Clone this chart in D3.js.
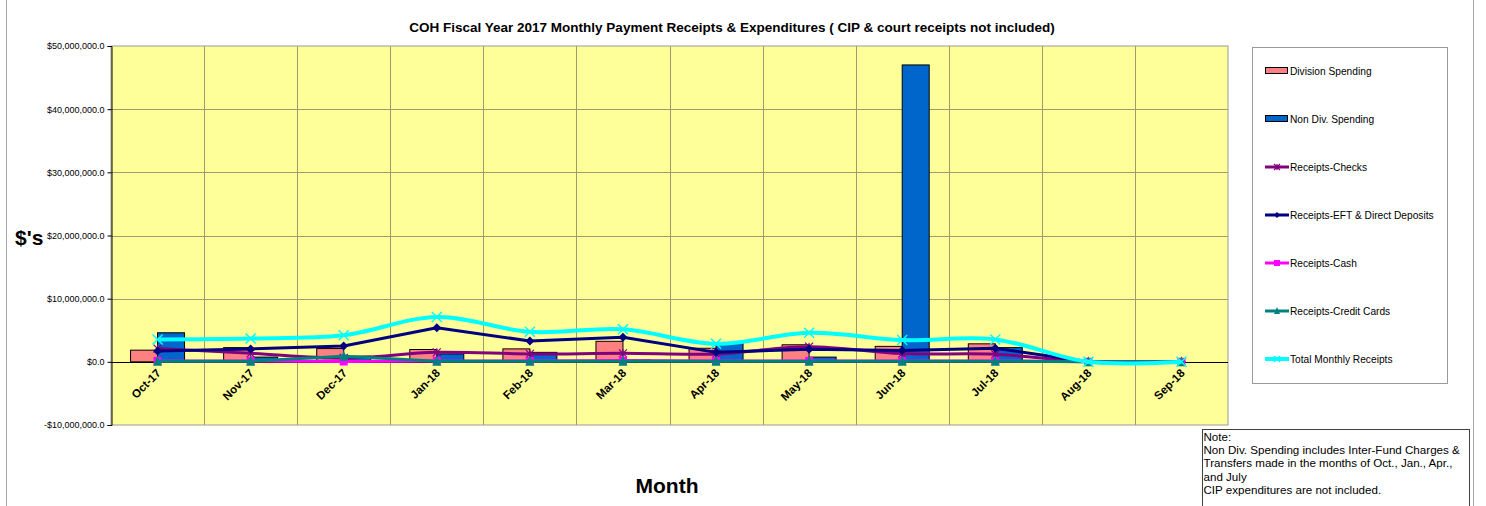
<!DOCTYPE html>
<html>
<head>
<meta charset="utf-8">
<script src="https://cdn.jsdelivr.net/npm/d3@7"></script>
<style>
  body { margin: 0; background: #fff; }
  svg { display: block; font-family: "Liberation Sans", Arial, sans-serif; }
</style>
</head>
<body>
<svg id="chart" width="1486" height="506"></svg>
<script>
const months = ["Oct-17","Nov-17","Dec-17","Jan-18","Feb-18","Mar-18","Apr-18","May-18","Jun-18","Jul-18","Aug-18","Sep-18"];
const divisionSpending = [1.85e6, 2.25e6, 2.1e6, 1.95e6, 2.05e6, 3.25e6, 2.15e6, 2.7e6, 2.45e6, 2.85e6, 0, 0];
const nonDivSpending   = [4.6e6, 0.75e6, 0.9e6, 1.25e6, 1.5e6, 0.3e6, 2.95e6, 0.75e6, 47.0e6, 2.25e6, 0, 0];
const receiptsChecks   = [2.1e6, 1.35e6, 0.6e6, 1.5e6, 1.25e6, 1.35e6, 1.25e6, 2.4e6, 1.3e6, 1.2e6, 0, 0];
const receiptsEFT      = [1.7e6, 2.05e6, 2.5e6, 5.4e6, 3.3e6, 3.9e6, 1.5e6, 2.0e6, 1.8e6, 2.15e6, 0, 0];
const receiptsCash     = [0.15e6, 0.15e6, 0.05e6, 0.15e6, 0.15e6, 0.2e6, 0.15e6, 0.15e6, 0.15e6, 0.15e6, 0, 0];
const receiptsCC       = [0.1e6, 0.1e6, 0.9e6, 0.1e6, 0.1e6, 0.1e6, 0.1e6, 0.1e6, 0.1e6, 0.1e6, 0, 0];
const totalReceipts    = [3.55e6, 3.7e6, 4.2e6, 7.1e6, 4.75e6, 5.15e6, 2.85e6, 4.6e6, 3.45e6, 3.55e6, 0, 0];
const yTicks = [-10e6, 0, 10e6, 20e6, 30e6, 40e6, 50e6];

const title = "COH Fiscal Year 2017 Monthly Payment Receipts & Expenditures ( CIP & court receipts not included)";
const noteLines = ["Note:", "Non Div. Spending includes Inter-Fund Charges &", "Transfers made in the months of Oct., Jan., Apr.,", "and July", "CIP expenditures are not included."];

const svg = d3.select("#chart");
const plot = {left: 111, right: 1228, top: 46, bottom: 425};

// outer chart frame
svg.append("rect").attr("x", 6.5).attr("y", -2).attr("width", 1467).attr("height", 512)
  .attr("fill", "#fff").attr("stroke", "#a6a6a6").attr("stroke-width", 1);

const x = d3.scaleBand().domain(months).range([plot.left, plot.right]).padding(0);
const y = d3.scaleLinear().domain([-10e6, 50e6]).range([plot.bottom, plot.top]);
const barW = x.bandwidth() * 0.29;

// plot background
svg.append("rect").attr("x", plot.left).attr("y", plot.top)
  .attr("width", plot.right - plot.left).attr("height", plot.bottom - plot.top)
  .attr("fill", "#FFFF99").attr("stroke", "#9a9a9a").attr("stroke-width", 1);

// gridlines
const grid = svg.append("g");
grid.selectAll("line.h").data(yTicks.filter(d => d !== 0 && d !== -10e6 && d !== 50e6)).join("line")
  .attr("x1", plot.left).attr("x2", plot.right)
  .attr("y1", d => Math.round(y(d)) + 0.5).attr("y2", d => Math.round(y(d)) + 0.5)
  .attr("stroke", "#9c9c6c").attr("stroke-width", 1);
grid.selectAll("line.v").data(months.slice(1)).join("line")
  .attr("x1", d => Math.round(x(d)) + 0.5).attr("x2", d => Math.round(x(d)) + 0.5)
  .attr("y1", plot.top).attr("y2", plot.bottom)
  .attr("stroke", "#9c9c6c").attr("stroke-width", 1);

// bars
const bars = svg.append("g");
bars.selectAll("rect.div").data(months).join("rect")
  .attr("x", d => x(d) + x.bandwidth()/2 - barW)
  .attr("y", (d, i) => y(Math.max(0, divisionSpending[i])))
  .attr("width", barW)
  .attr("height", (d, i) => Math.abs(y(divisionSpending[i]) - y(0)))
  .attr("fill", "#FF8080").attr("stroke", "#000").attr("stroke-width", 1);
bars.selectAll("rect.nondiv").data(months).join("rect")
  .attr("x", d => x(d) + x.bandwidth()/2)
  .attr("y", (d, i) => y(Math.max(0, nonDivSpending[i])))
  .attr("width", barW)
  .attr("height", (d, i) => Math.abs(y(nonDivSpending[i]) - y(0)))
  .attr("fill", "#0066CC").attr("stroke", "#000").attr("stroke-width", 1);

// zero axis line
svg.append("line").attr("x1", plot.left).attr("x2", plot.right)
  .attr("y1", Math.round(y(0)) + 0.5).attr("y2", Math.round(y(0)) + 0.5)
  .attr("stroke", "#000").attr("stroke-width", 1);

// y axis
const yAxis = d3.axisLeft(y).tickValues(yTicks).tickSize(4).tickPadding(3)
  .tickFormat(d => (d < 0 ? "-$" : "$") + d3.format(",.1f")(Math.abs(d)));
const yg = svg.append("g").attr("transform", `translate(${plot.left + 0.5},0)`).call(yAxis);
yg.select(".domain").attr("stroke", "#000");
yg.selectAll(".tick line").attr("stroke", "#000");
yg.selectAll("text").attr("font-size", 9).attr("fill", "#000")
  .attr("font-family", "Liberation Sans, Arial, sans-serif");

// x labels
const xg = svg.append("g");
xg.selectAll("text").data(months).join("text")
  .attr("transform", d => `translate(${x(d) + x.bandwidth()/2 + 4},${y(0) + 12}) rotate(-45)`)
  .attr("text-anchor", "end")
  .attr("font-size", 11.5).attr("font-weight", "bold").attr("fill", "#000")
  .text(d => d);

// lines
const cx = d => x(d) + x.bandwidth()/2;
const series = [
  {name: "Receipts-Checks", values: receiptsChecks, color: "#800080", width: 3, marker: "star", smooth: true},
  {name: "Receipts-EFT & Direct Deposits", values: receiptsEFT, color: "#000080", width: 3, marker: "diamond", smooth: false},
  {name: "Receipts-Cash", values: receiptsCash, color: "#FF00FF", width: 3, marker: "square", smooth: false},
  {name: "Receipts-Credit Cards", values: receiptsCC, color: "#008080", width: 3, marker: "triangle", smooth: false},
  {name: "Total Monthly Receipts", values: totalReceipts, color: "#00FFFF", width: 4, marker: "x", smooth: true}
];

function drawMarker(g, type, px, py, color, s) {
  if (type === "diamond") {
    g.append("path").attr("d", `M${px},${py - s}L${px + s},${py}L${px},${py + s}L${px - s},${py}Z`).attr("fill", color);
  } else if (type === "square") {
    g.append("rect").attr("x", px - s).attr("y", py - s).attr("width", 2*s).attr("height", 2*s).attr("fill", color);
  } else if (type === "triangle") {
    g.append("path").attr("d", `M${px},${py - s - 1}L${px + s},${py + s}L${px - s},${py + s}Z`).attr("fill", color);
  } else if (type === "x") {
    g.append("path").attr("d", `M${px - s},${py - s}L${px + s},${py + s}M${px + s},${py - s}L${px - s},${py + s}`)
      .attr("stroke", color).attr("stroke-width", 1.5).attr("fill", "none");
  } else if (type === "star") {
    g.append("path").attr("d", `M${px - s},${py - s}L${px + s},${py + s}M${px + s},${py - s}L${px - s},${py + s}M${px},${py - s}L${px},${py + s}`)
      .attr("stroke", color).attr("stroke-width", 1.2).attr("fill", "none");
  }
}

const markerSize = {diamond: 4.5, square: 4, triangle: 4.5, x: 5, star: 4};

series.forEach(s => {
  const line = d3.line()
    .x((d, i) => cx(months[i]))
    .y(d => y(d))
    .curve(s.smooth ? d3.curveCatmullRom.alpha(0) : d3.curveLinear);
  const g = svg.append("g");
  g.append("path").datum(s.values).attr("d", line)
    .attr("fill", "none").attr("stroke", s.color).attr("stroke-width", s.width)
    .attr("stroke-linejoin", "round");
  s.values.forEach((v, i) => drawMarker(g, s.marker, cx(months[i]), y(v), s.color, markerSize[s.marker]));
});

// title
svg.append("text").attr("x", 732).attr("y", 32).attr("text-anchor", "middle")
  .attr("font-size", 13.5).attr("font-weight", "bold").text(title);

// axis titles
svg.append("text").attr("x", 15).attr("y", 245).attr("font-size", 21).attr("font-weight", "bold").text("$'s");
svg.append("text").attr("x", 667).attr("y", 493).attr("text-anchor", "middle")
  .attr("font-size", 21).attr("font-weight", "bold").text("Month");

// legend
const lg = svg.append("g");
lg.append("rect").attr("x", 1252.5).attr("y", 47.5).attr("width", 195).attr("height", 336)
  .attr("fill", "#fff").attr("stroke", "#9a9a9a").attr("stroke-width", 1);
const legendItems = [
  {name: "Division Spending", type: "bar", color: "#FF8080"},
  {name: "Non Div. Spending", type: "bar", color: "#0066CC"}
].concat(series.map(s => ({name: s.name, type: "line", color: s.color, marker: s.marker, width: s.width})));
legendItems.forEach((it, i) => {
  const ly = 71 + i * 48;
  if (it.type === "bar") {
    lg.append("rect").attr("x", 1265.5).attr("y", ly - 3.5).attr("width", 22).attr("height", 6)
      .attr("fill", it.color).attr("stroke", "#000").attr("stroke-width", 1);
  } else {
    lg.append("line").attr("x1", 1265).attr("x2", 1289).attr("y1", ly).attr("y2", ly)
      .attr("stroke", it.color).attr("stroke-width", it.width);
    drawMarker(lg, it.marker, 1277, ly, it.color, 3);
  }
  lg.append("text").attr("x", 1290).attr("y", ly + 3.5).attr("font-size", 10.2).attr("fill", "#000").text(it.name);
});

// note box
const ng = svg.append("g");
ng.append("rect").attr("x", 1202.5).attr("y", 429.5).attr("width", 267).attr("height", 80)
  .attr("fill", "#fff").attr("stroke", "#404040").attr("stroke-width", 1);
noteLines.forEach((t, i) => {
  ng.append("text").attr("x", 1203.5).attr("y", 441 + i * 13.2).attr("font-size", 11.6).attr("fill", "#000").text(t);
});
</script>
</body>
</html>
